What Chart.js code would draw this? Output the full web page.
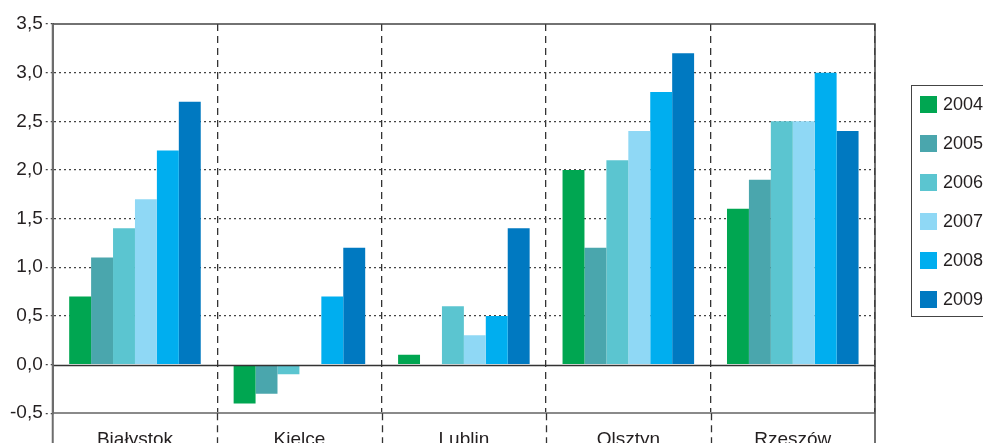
<!DOCTYPE html>
<html>
<head>
<meta charset="utf-8">
<script src="https://cdn.jsdelivr.net/npm/chart.js@4/dist/chart.umd.min.js"></script>
<style>
  body { margin: 0; overflow: hidden; background: #fff; font-family: "Liberation Sans", Arial, sans-serif; }
  #wrap { position: relative; width: 1000px; height: 490px; }
  #legend {
    position: absolute; left: 911px; top: 85px; width: 100px; height: 232px;
    border: 1.5px solid #444; box-sizing: border-box;
  }
  .item { position: absolute; left: 8px; height: 20px; display: flex; align-items: center; color: #231f20; font-size: 18px; }
  .item span.sw { display: inline-block; width: 17px; height: 17px; margin-right: 6px; }
</style>
</head>
<body>
<div id="wrap">
  <canvas id="chart"></canvas>
  <div id="legend"></div>
</div>
<script>
// Categories and series
const cities = ["Białystok", "Kielce", "Lublin", "Olsztyn", "Rzeszów"];
const years = ["2004", "2005", "2006", "2007", "2008", "2009"];
const colors = ["#00a651", "#4aa6ad", "#5bc5d0", "#8fd8f5", "#00aeef", "#0079c1"];

const v2004 = [0.7, -0.4, 0.1, 2.0, 1.6];
const v2005 = [1.1, -0.3, 0.0, 1.2, 1.9];
const v2006 = [1.4, -0.1, 0.6, 2.1, 2.5];
const v2007 = [1.7, 0.0, 0.3, 2.4, 2.5];
const v2008 = [2.2, 0.7, 0.5, 2.8, 3.0];
const v2009 = [2.7, 1.2, 1.4, 3.2, 2.4];
const series = [v2004, v2005, v2006, v2007, v2008, v2009];

const yMin = -0.5, yMax = 3.5, yStep = 0.5;

// Extra frame lines Excel-style: zero line, top/right border, lines running below the axis
const framePlugin = {
  id: "frame",
  afterDatasetsDraw(chart) {
    const { ctx, chartArea: a, scales: { y } } = chart;
    ctx.save();
    ctx.setLineDash([]);
    // zero line
    ctx.strokeStyle = "#333";
    ctx.lineWidth = 1.5;
    const y0 = Math.round(y.getPixelForValue(0)) + 0.5;
    ctx.beginPath(); ctx.moveTo(a.left, y0); ctx.lineTo(a.right, y0); ctx.stroke();
    // top and right border
    ctx.strokeStyle = "#444";
    ctx.beginPath();
    ctx.moveTo(a.left, a.top); ctx.lineTo(a.right, a.top);
    ctx.lineTo(a.right, chart.height);
    ctx.stroke();
    ctx.restore();
  },
  afterDraw(chart) {
    const { ctx, chartArea: a } = chart;
    ctx.save();
    // left axis continues down
    ctx.strokeStyle = "#6d6d6d";
    ctx.lineWidth = 2;
    ctx.beginPath(); ctx.moveTo(a.left, a.top); ctx.lineTo(a.left, chart.height); ctx.stroke();
    // dashed separators continue down
    ctx.strokeStyle = "#333";
    ctx.lineWidth = 1.3;
    ctx.setLineDash([7, 5]);
    const w = (a.right - a.left) / cities.length;
    for (let i = 1; i < cities.length; i++) {
      const x = Math.round(a.left + i * w) + 0.5;
      ctx.beginPath(); ctx.moveTo(x, a.bottom); ctx.lineTo(x, chart.height); ctx.stroke();
    }
    ctx.restore();
  }
};

const datasets = years.map((yr, i) => ({
  label: yr,
  data: series[i],
  backgroundColor: colors[i],
  borderWidth: 0,
  categoryPercentage: 0.8,
  barPercentage: 1.0,
}));

new Chart(document.getElementById("chart"), {
  type: "bar",
  data: { labels: cities, datasets: datasets },
  options: {
    responsive: true,
    maintainAspectRatio: false,
    animation: false,
    layout: { padding: { left: 7, right: 125, top: 24, bottom: 24 } },
    plugins: { legend: { display: false }, tooltip: { enabled: false } },
    scales: {
      x: {
        offset: true,
        grid: {
          offset: true, lineWidth: 1.3, drawTicks: false,
          color: (c) => (c.index === 0 || c.index === cities.length) ? "rgba(0,0,0,0)" : "#333",
        },
        border: { display: true, color: "#8a8a8a", width: 2, dash: [7, 5] },
        ticks: { color: "#231f20", font: { family: "Liberation Sans", size: 19 }, padding: 15 },
      },
      y: {
        min: yMin, max: yMax,
        ticks: {
          stepSize: yStep, color: "#231f20", padding: 3,
          font: { family: "Liberation Sans", size: 19 },
          callback: (v) => v.toFixed(1).replace(".", ","),
        },
        grid: {
          color: (c) => (c.tick && (c.tick.value === 0 || c.tick.value === yMin || c.tick.value === yMax)) ? "rgba(0,0,0,0)" : "#444",
          lineWidth: 1.2,
          tickLength: 7,
          tickColor: "#444",
          tickBorderDash: [2, 3],
        },
        border: { display: true, color: "#6d6d6d", width: 2, dash: [2, 3] },
      },
    },
  },
  plugins: [framePlugin],
});

// legend
const legend = document.getElementById("legend");
years.forEach((yr, i) => {
  const d = document.createElement("div");
  d.className = "item";
  d.style.top = (8 + i * 39) + "px";
  d.innerHTML = '<span class="sw" style="background:' + colors[i] + '"></span>' + yr;
  legend.appendChild(d);
});
</script>
</body>
</html>
